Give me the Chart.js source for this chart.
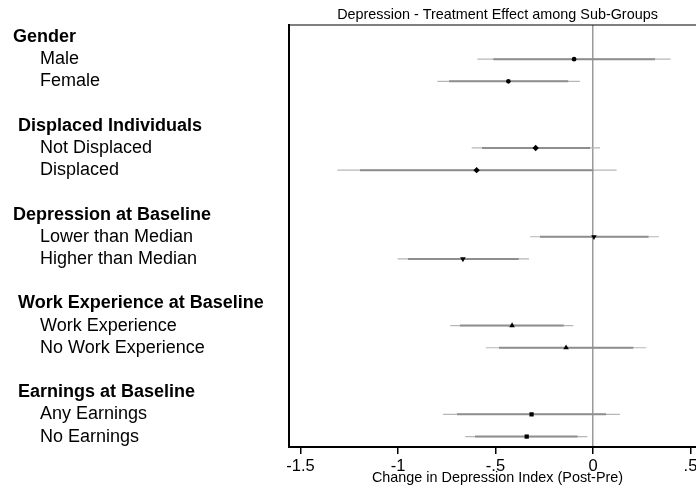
<!DOCTYPE html>
<html>
<head>
<meta charset="utf-8">
<script src="https://cdn.jsdelivr.net/npm/chart.js@4.4.1/dist/chart.umd.min.js"></script>
<style>
  html, body { margin: 0; padding: 0; background: #fff; overflow: hidden; }
  canvas { display: block; }
</style>
</head>
<body>
<canvas id="c" width="720" height="497"></canvas>
<script>
// Sub-group headings and the two sub-groups listed under each
const groups = ['Gender', ' Displaced Individuals', 'Depression at Baseline', ' Work Experience at Baseline', ' Earnings at Baseline'];
const subgroups = ['Male', 'Female', 'Not Displaced', 'Displaced', 'Lower than Median', 'Higher than Median',
                   'Work Experience', 'No Work Experience', 'Any Earnings', 'No Earnings'];
const groupMarkers = ['circle', 'rectRot', 'triangle-down', 'triangle', 'rect'];

// Point estimates and confidence bounds (change in depression index, post - pre)
const estimates = [-0.097, -0.434, -0.294, -0.597, 0.005, -0.667, -0.415, -0.138, -0.315, -0.340];
const ci95Low   = [-0.593, -0.798, -0.622, -1.311, -0.323, -1.002, -0.732, -0.549, -0.769, -0.655];
const ci95High  = [ 0.398, -0.067,  0.036,  0.121,  0.338, -0.328, -0.101,  0.273,  0.138, -0.029];
const ci90Low   = [-0.511, -0.738, -0.569, -1.195, -0.272, -0.949, -0.682, -0.482, -0.697, -0.605];
const ci90High  = [ 0.318, -0.127, -0.015,  0.002,  0.285, -0.381, -0.150,  0.207,  0.067, -0.079];

const xTicks = [-1.5, -1, -0.5, 0, 0.5];
const xTickLabels = ['-1.5', '-1', '-.5', '0', '.5'];

const FONT = '"Liberation Sans", Arial, Helvetica, sans-serif';
const INDENT = '\u2002\u2002\u2002';

// Row positions: heading, two sub-groups, then a blank row
const rowSlot = i => 4 * Math.floor(i / 2) + 1 + (i % 2);
const yRows = [];
groups.forEach((g, gi) => {
  yRows.push({ slot: 4 * gi, text: g, header: true });
  [0, 1].forEach(k => {
    const i = 2 * gi + k;
    yRows.push({ slot: rowSlot(i), text: INDENT + subgroups[i], header: false });
  });
});

const ciLine = (lo, hi, color, width, order) => lo.map((l, i) => ({
  data: [{ x: l, y: rowSlot(i) }, { x: hi[i], y: rowSlot(i) }],
  showLine: true,
  borderColor: color,
  borderWidth: width,
  pointRadius: 0,
  order: order
}));

const markerRadius = { 'circle': 2.3, 'rectRot': 3.2, 'triangle-down': 3.2, 'triangle': 3.2, 'rect': 3.0 };
const markerStyle = i => groupMarkers[Math.floor(i / 2)];

const datasets = [
  {
    data: estimates.map((v, i) => ({ x: v, y: rowSlot(i) })),
    pointStyle: ctx => markerStyle(ctx.dataIndex) === 'triangle-down' ? 'triangle' : markerStyle(ctx.dataIndex),
    rotation: ctx => markerStyle(ctx.dataIndex) === 'triangle-down' ? 180 : 0,
    pointRadius: ctx => markerRadius[markerStyle(ctx.dataIndex)],
    backgroundColor: '#000',
    borderColor: '#000',
    borderWidth: 0,
    showLine: false,
    order: 0
  },
  ...ciLine(ci90Low, ci90High, '#8e8e8e', 2, 1),
  ...ciLine(ci95Low, ci95High, '#b6b6b6', 1.2, 2)
];

// top and right edges of the plot region
const frameTop = {
  id: 'frameTop',
  afterDraw(chart) {
    const { ctx, chartArea: a } = chart;
    ctx.save();
    ctx.strokeStyle = '#000';
    ctx.lineWidth = 1.2;
    ctx.beginPath();
    ctx.moveTo(a.left, a.top);
    ctx.lineTo(a.right, a.top);
    ctx.lineTo(a.right, a.bottom);
    ctx.stroke();
    ctx.restore();
  }
};

new Chart(document.getElementById('c'), {
  type: 'scatter',
  data: { datasets },
  plugins: [frameTop],
  options: {
    responsive: false,
    animation: false,
    events: [],
    layout: { padding: { left: 13, right: 14, top: 0, bottom: 10.5 } },
    plugins: {
      legend: { display: false },
      tooltip: { enabled: false },
      title: {
        display: true,
        fullSize: false,
        text: 'Depression - Treatment Effect among Sub-Groups',
        color: '#000',
        font: { family: FONT, size: 14.4, weight: 'normal' },
        padding: { top: 6.4, bottom: 1.3 }
      }
    },
    scales: {
      x: {
        type: 'linear',
        min: -1.559,
        max: 0.5795,
        afterBuildTicks: s => { s.ticks = xTicks.map(v => ({ value: v })); },
        afterFit: s => { s.height = 39.5; },
        ticks: {
          callback: (v, idx) => xTickLabels[idx],
          font: { family: FONT, size: 16.5 },
          color: '#000',
          padding: 2.6,
          maxRotation: 0,
          autoSkip: false
        },
        grid: {
          drawOnChartArea: true,
          color: ctx => (ctx.tick && ctx.tick.value === 0) ? '#9a9a9a' : 'rgba(0,0,0,0)',
          lineWidth: 1.5,
          tickLength: 7,
          tickColor: '#000',
          tickWidth: 1.5
        },
        border: { display: true, color: '#000', width: 2 },
        title: {
          display: true,
          text: 'Change in Depression Index (Post-Pre)',
          color: '#000',
          font: { family: FONT, size: 14.4 },
          padding: 0
        }
      },
      y: {
        type: 'linear',
        reverse: true,
        min: -0.54,
        max: 18.47,
        afterBuildTicks: s => { s.ticks = yRows.map(r => ({ value: r.slot })); },
        afterFit: s => { s.width = 276; },
        ticks: {
          callback: (v, idx) => yRows[idx].text,
          font: ctx => ({ family: FONT, size: 18, weight: (yRows[ctx.index] && yRows[ctx.index].header) ? 'bold' : 'normal' }),
          color: '#000',
          crossAlign: 'far',
          autoSkip: false,
          padding: 0
        },
        grid: { display: false, drawTicks: false },
        border: { display: true, color: '#000', width: 2 }
      }
    }
  }
});
</script>
</body>
</html>
